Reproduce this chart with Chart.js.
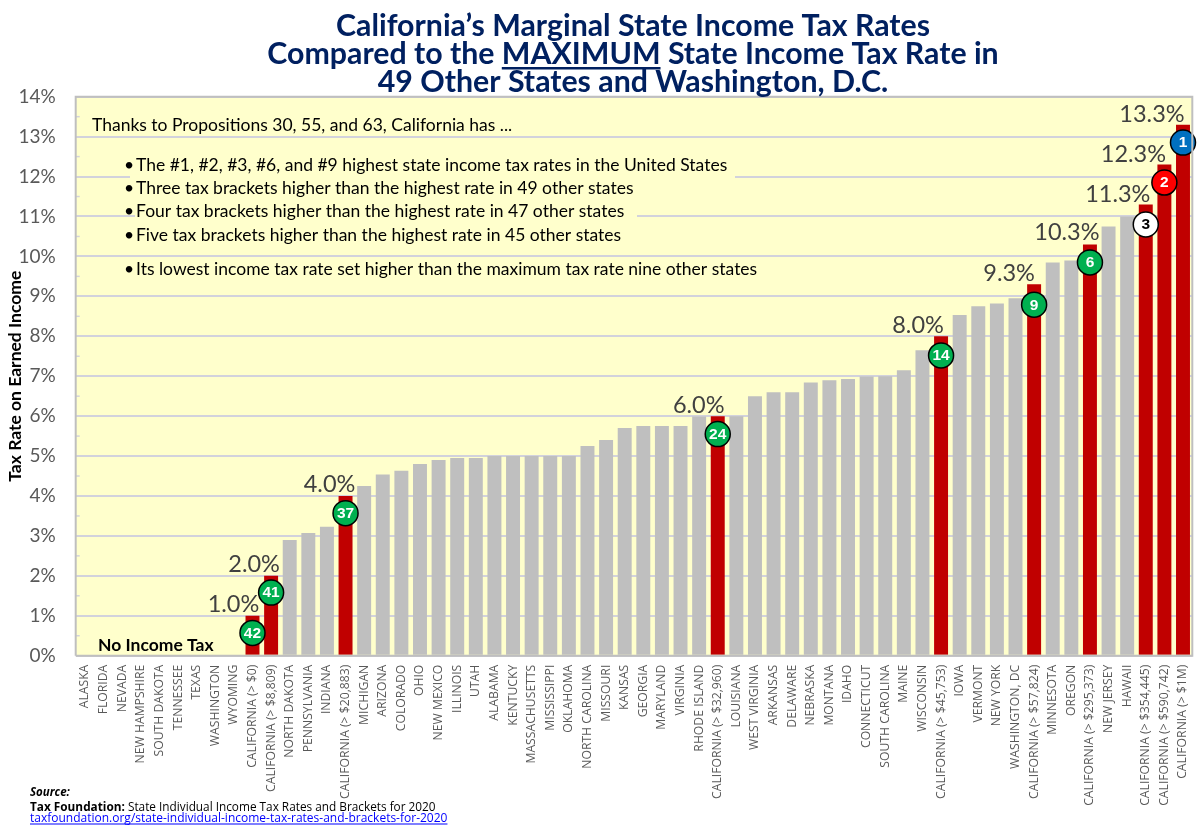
<!DOCTYPE html>
<html><head><meta charset="utf-8">
<style>html,body{margin:0;padding:0;background:#fff}canvas{display:block}</style>
<script src="https://cdn.jsdelivr.net/npm/chart.js@4"></script>
</head><body>
<div style="width:1200px;height:826px"><canvas id="c" width="1200" height="826"></canvas></div>
<script>
const categories = ["ALASKA","FLORIDA","NEVADA","NEW HAMPSHIRE","SOUTH DAKOTA","TENNESSEE","TEXAS","WASHINGTON","WYOMING","CALIFORNIA (> $0)","CALIFORNIA (> $8,809)","NORTH DAKOTA","PENNSYLVANIA","INDIANA","CALIFORNIA (> $20,883)","MICHIGAN","ARIZONA","COLORADO","OHIO","NEW MEXICO","ILLINOIS","UTAH","ALABAMA","KENTUCKY","MASSACHUSETTS","MISSISSIPPI","OKLAHOMA","NORTH CAROLINA","MISSOURI","KANSAS","GEORGIA","MARYLAND","VIRGINIA","RHODE ISLAND","CALIFORNIA (> $32,960)","LOUISIANA","WEST VIRGINIA","ARKANSAS","DELAWARE","NEBRASKA","MONTANA","IDAHO","CONNECTICUT","SOUTH CAROLINA","MAINE","WISCONSIN","CALIFORNIA (> $45,753)","IOWA","VERMONT","NEW YORK","WASHINGTON, DC","CALIFORNIA (> $57,824)","MINNESOTA","OREGON","CALIFORNIA (> $295,373)","NEW JERSEY","HAWAII","CALIFORNIA (> $354,445)","CALIFORNIA (> $590,742)","CALIFORNIA (> $1M)"];
const rates = [0,0,0,0,0,0,0,0,0,1,2,2.9,3.07,3.23,4,4.25,4.54,4.63,4.8,4.9,4.95,4.95,5,5,5,5,5,5.25,5.4,5.7,5.75,5.75,5.75,5.99,6,6,6.5,6.6,6.6,6.84,6.9,6.93,6.99,7,7.15,7.65,8,8.53,8.75,8.82,8.95,9.3,9.85,9.9,10.3,10.75,11,11.3,12.3,13.3];
const rankCategories = ["CALIFORNIA (> $0)","CALIFORNIA (> $8,809)","CALIFORNIA (> $20,883)","CALIFORNIA (> $32,960)","CALIFORNIA (> $45,753)","CALIFORNIA (> $57,824)","CALIFORNIA (> $295,373)","CALIFORNIA (> $354,445)","CALIFORNIA (> $590,742)","CALIFORNIA (> $1M)"];
const ranks = [42,41,37,24,14,9,6,3,2,1];
const rankHeights = [0.57,1.58,3.57,5.55,7.52,8.79,9.85,10.8,11.85,12.85];
const titleLines = ["California\u2019s Marginal State Income Tax Rates","Compared to the MAXIMUM State Income Tax Rate in","49 Other States and Washington, D.C."];
const introText = "Thanks to Propositions 30, 55, and 63, California has ...";
const bulletLines = ["The #1, #2, #3, #6, and #9 highest state income tax rates in the United States","Three tax brackets higher than the highest rate in 49 other states","Four tax brackets higher than the highest rate in 47 other states","Five tax brackets higher than the highest rate in 45 other states","Its lowest income tax rate set higher than the maximum tax rate nine other states"];

const SANS = 'Lato, Carlito, sans-serif';
const rankSeries = categories.map(c => { const k = rankCategories.indexOf(c); return k < 0 ? null : rankHeights[k]; });
const rankOf = categories.map(c => { const k = rankCategories.indexOf(c); return k < 0 ? null : ranks[k]; });
const isCA = c => c.startsWith('CALIFORNIA');
const rankColor = r => r === 1 ? '#0070C0' : r === 2 ? '#FF0000' : r === 3 ? '#FFFFFF' : '#00B050';
const labelShift = {9:[-19,4],10:[-17,4],14:[-16,4],34:[-19,3],46:[-23,3],51:[-25,3],54:[-23,4],57:[-28,3],58:[-31,3],59:[-31,3]};

const page = {
  id:'page',
  beforeDraw(ch){
    const {ctx,chartArea:a} = ch;
    ctx.save(); ctx.fillStyle='#FFFFCC';
    ctx.fillRect(a.left,a.top,a.width,a.height); ctx.restore();
  },
  beforeDatasetsDraw(ch){
    const {ctx,chartArea:a,scales:{y}} = ch;
    ctx.save();
    ctx.fillStyle='#FFFFCC';
    ctx.fillRect(130,y.getPixelForValue(12)-2,605,4);
    ctx.fillRect(135,y.getPixelForValue(11)-2,502,4);
    ctx.strokeStyle='#D2D2DC'; ctx.lineWidth=1.5;
    for(let v=0.5;v<14;v++){const p=y.getPixelForValue(v);ctx.beginPath();ctx.moveTo(a.left,p);ctx.lineTo(a.left+4,p);ctx.stroke();}
    ctx.restore();
  },
  afterDraw(ch){
    const {ctx,chartArea:a,scales:{x,y}} = ch;
    ctx.save();
    ctx.strokeStyle='#BFBFBF'; ctx.lineWidth=2;
    ctx.beginPath(); ctx.moveTo(a.left,a.bottom); ctx.lineTo(a.left,a.top); ctx.lineTo(a.right,a.top); ctx.lineTo(a.right,a.bottom); ctx.lineTo(a.left,a.bottom); ctx.stroke();

    const pts = ch.getDatasetMeta(1).data;
    ctx.textAlign='center'; ctx.textBaseline='middle';
    rankOf.forEach((r,i)=>{ if(r==null) return;
      ctx.font='bold 15.5px "Liberation Sans", Arial, sans-serif';
      ctx.fillStyle = r===3 ? '#000000' : '#FFFFFF';
      ctx.fillText(String(r),pts[i].x,pts[i].y+0.5);
    });
    ctx.font='23.5px '+SANS; ctx.fillStyle='#404040'; ctx.textBaseline='alphabetic';
    categories.forEach((c,i)=>{ if(!isCA(c)) return;
      const s=labelShift[i];
      ctx.fillText(rates[i].toFixed(1)+'%',x.getPixelForValue(i)+s[0],y.getPixelForValue(rates[i])-s[1]);
    });
    ctx.font='bold 30.3px '+SANS; ctx.fillStyle='#002060'; ctx.textAlign='center';
    const tcx=633, tb=[36,64,92];
    titleLines.forEach((t,i)=>ctx.fillText(t,tcx,tb[i]));
    const w2=ctx.measureText(titleLines[1]).width;
    const pre=ctx.measureText('Compared to the ').width, mw=ctx.measureText('MAXIMUM').width;
    ctx.fillRect(tcx-w2/2+pre,67,mw,2.5);
    ctx.textAlign='left'; ctx.fillStyle='#000000'; ctx.font='17.5px '+SANS;
    ctx.fillText(introText,92,131);
    const ys=[171,194,217,241,275];
    bulletLines.forEach((t,i)=>{ ctx.fillText('\u2022',124,ys[i]); ctx.fillText(t,136,ys[i]); });
    ctx.font='bold 17.5px '+SANS; ctx.fillText('No Income Tax',98,651);
    const F='"Open Sans", sans-serif';
    ctx.font='italic bold 11.5px '+F; ctx.fillText('Source:',30,796);
    ctx.font='bold 11.8px '+F; ctx.fillText('Tax Foundation:',30,811);
    const bw=ctx.measureText('Tax Foundation: ').width;
    ctx.font='11.8px '+F; ctx.fillText('State Individual Income Tax Rates and Brackets for 2020',30+bw,811);
    ctx.fillStyle='#0000FF'; const link='taxfoundation.org/state-individual-income-tax-rates-and-brackets-for-2020';
    ctx.font='12px '+F; ctx.fillText(link,30,822);
    ctx.fillRect(30,823.5,ctx.measureText(link).width,1);
    ctx.restore();
  }
};

new Chart(document.getElementById('c'),{
  type:'bar',
  data:{labels:categories,datasets:[
    {type:'bar',data:rates,order:2,backgroundColor:categories.map(c=>isCA(c)?'#C00000':'#BFBFBF'),barPercentage:0.75,categoryPercentage:1},
    {type:'line',data:rankSeries,order:1,showLine:false,clip:false,spanGaps:false,pointRadius:12.5,pointHoverRadius:12.5,pointBorderWidth:1.5,pointBorderColor:'#000000',pointBackgroundColor:categories.map((c,i)=>rankOf[i]==null?'#00B050':rankColor(rankOf[i]))}
  ]},
  plugins:[page],
  options:{
    responsive:false,animation:false,devicePixelRatio:1,
    layout:{autoPadding:false,padding:{top:96.7,right:7.7,left:0,bottom:0}},
    plugins:{legend:{display:false},tooltip:{enabled:false},title:{display:false}},
    scales:{
      x:{
        grid:{display:false,drawTicks:false},border:{display:false},
        afterFit(s){s.height=170.3;s.paddingLeft=0;s.paddingRight=0;},
        ticks:{autoSkip:false,maxRotation:90,minRotation:90,padding:9,color:'#595959',font:{family:'"Open Sans", sans-serif',size:12.2}}
      },
      y:{
        min:0,max:14,
        afterFit(s){s.width=75.7;},
        grid:{color:'#D2D2DC',lineWidth:2,drawTicks:false},border:{display:false},
        title:{display:true,text:'Tax Rate on Earned Income',color:'#000000',font:{family:SANS,weight:'bold',size:17.5},padding:{top:5,bottom:0}},
        ticks:{stepSize:1,padding:20,color:'#595959',font:{family:SANS,size:19},callback:v=>v+'%'}
      }
    }
  }
});
</script>
</body></html>
